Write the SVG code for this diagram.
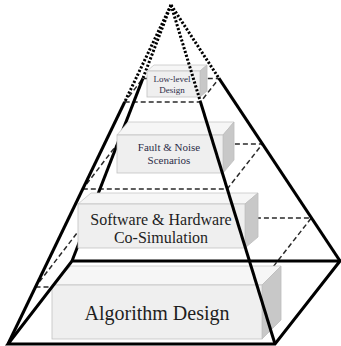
<svg xmlns="http://www.w3.org/2000/svg" width="341" height="346" viewBox="0 0 341 346">
<style>
.dash{fill:none;stroke:#2a2a2a;stroke-width:1.5;stroke-dasharray:5 3}
.dot{fill:none;stroke:#000;stroke-width:3;stroke-dasharray:2.2 1.8}
.thick{fill:none;stroke:#000;stroke-width:3;stroke-linejoin:miter}
.front{fill:#efefef;stroke:#c2c2c2;stroke-width:0.8}
.top{fill:#f6f6f6;stroke:#c8c8c8;stroke-width:0.8}
.side{fill:#c8c8c8;stroke:#bdbdbd;stroke-width:0.8}
.t{font-family:"Liberation Serif","Times New Roman",serif;text-anchor:middle}
.sm{fill:#2d2d48}
.lg{fill:#1e1e1e}
</style>
<rect width="341" height="346" fill="#fff"/>
<g id="connectors-back">
<polygon class="dash" points="124.7,102 200.5,102 219,78.4 142.9,78.4"/>
<polygon class="dash" points="82.8,188.9 227.3,188.9 262.4,144 117.4,144"/>
<polygon class="dash" points="35.5,286.9 257.4,286.9 311.4,217.9 88.7,217.9"/>
<line class="dot" x1="171" y1="5" x2="142.9" y2="78.4"/>
<line class="thick" x1="142.9" y1="78.4" x2="72" y2="261"/>
</g>
<g id="low-level">
<polygon class="top" points="147,71 154,65 207,65 200,71"/>
<polygon class="side" points="200,71 207,65 207,91 200,97"/>
<rect class="front" x="147" y="71" width="53" height="26"/>
<text class="t sm" x="172" y="82" font-size="9">Low-level</text>
<text class="t sm" x="172" y="92.5" font-size="9">Design</text>
</g>
<g id="fault-noise">
<polygon class="top" points="117,135 128,122 234,122 223,135"/>
<polygon class="side" points="223,135 234,122 234,160 223,173"/>
<rect class="front" x="117" y="135" width="106" height="38"/>
<text class="t sm" x="169" y="150.5" font-size="11">Fault &amp; Noise</text>
<text class="t sm" x="169" y="163.5" font-size="11">Scenarios</text>
</g>
<g id="co-simulation">
<polygon class="top" points="78,204 91,193 258,193 245,204"/>
<polygon class="side" points="245,204 258,193 258,237 245,248"/>
<rect class="front" x="78" y="204" width="167" height="44"/>
<text class="t lg" x="161" y="225" font-size="16">Software &amp; Hardware</text>
<text class="t lg" x="161" y="243" font-size="16">Co-Simulation</text>
</g>
<g id="algorithm">
<polygon class="top" points="52,285 71,266 281,266 262,285"/>
<polygon class="side" points="262,285 281,266 281,320 262,339"/>
<rect class="front" x="52" y="285" width="210" height="54"/>
<text class="t lg" x="157" y="320" font-size="20">Algorithm Design</text>
</g>
<g id="connectors">
<line class="dot" x1="171" y1="5" x2="124.7" y2="102"/>
<line class="thick" x1="124.7" y1="102" x2="8" y2="344"/>
<line class="dot" x1="171" y1="5" x2="200.5" y2="102"/>
<line class="thick" x1="200.5" y1="102" x2="275" y2="344"/>
<line class="dot" x1="171" y1="5" x2="219" y2="78.4"/>
<line class="thick" x1="219" y1="78.4" x2="340" y2="261"/>
<polygon class="thick" points="8,344 275,344 340,261 72,261"/>
</g>
</svg>
